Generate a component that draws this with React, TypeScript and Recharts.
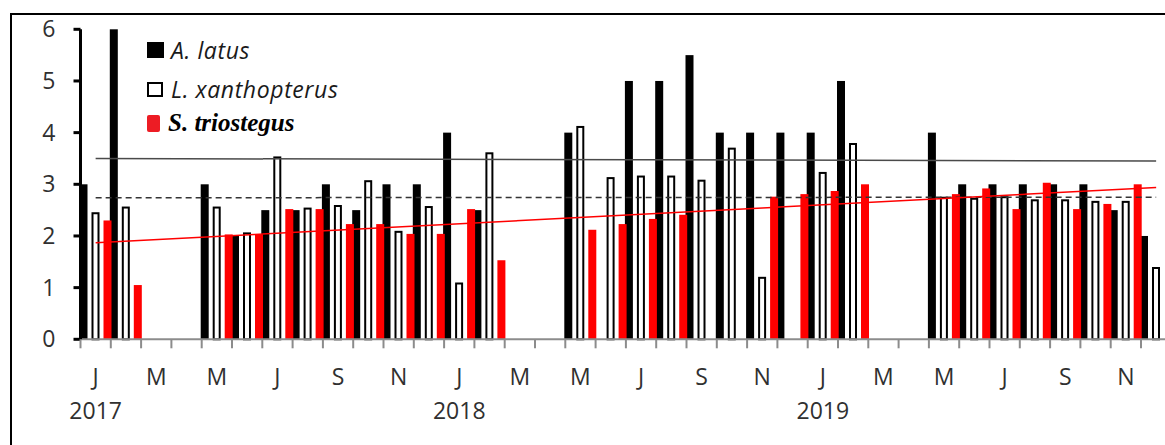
import React from 'react';
import { ComposedChart, Bar, XAxis, YAxis, ReferenceLine, Legend } from 'recharts';

// 36 monthly categories, Jan 2017 – Dec 2019
const months = [
  '2017-01', '2017-02', '2017-03', '2017-04', '2017-05', '2017-06',
  '2017-07', '2017-08', '2017-09', '2017-10', '2017-11', '2017-12',
  '2018-01', '2018-02', '2018-03', '2018-04', '2018-05', '2018-06',
  '2018-07', '2018-08', '2018-09', '2018-10', '2018-11', '2018-12',
  '2019-01', '2019-02', '2019-03', '2019-04', '2019-05', '2019-06',
  '2019-07', '2019-08', '2019-09', '2019-10', '2019-11', '2019-12',
];

const monthTickLabels = [
  'J', '', 'M', '', 'M', '', 'J', '', 'S', '', 'N', '',
  'J', '', 'M', '', 'M', '', 'J', '', 'S', '', 'N', '',
  'J', '', 'M', '', 'M', '', 'J', '', 'S', '', 'N', '',
];

const yearTickLabels = [
  '2017', '', '', '', '', '', '', '', '', '', '', '',
  '2018', '', '', '', '', '', '', '', '', '', '', '',
  '2019', '', '', '', '', '', '', '', '', '', '', '',
];

// A. latus (black)
const latus = [
  3.0, 6.0, null, null, 3.0, 2.0, 2.5, 2.5, 3.0, 2.5, 3.0, 3.0,
  4.0, 2.5, null, null, 4.0, null, 5.0, 5.0, 5.5, 4.0, 4.0, 4.0,
  4.0, 5.0, null, null, 4.0, 3.0, 3.0, 3.0, 3.0, 3.0, 2.5, 2.0,
];

// L. xanthopterus (white)
const xanthopterus = [
  2.44, 2.55, null, null, 2.55, 2.05, 3.52, 2.53, 2.58, 3.06, 2.08, 2.56,
  1.08, 3.6, null, null, 4.11, 3.12, 3.15, 3.15, 3.07, 3.69, 1.19, null,
  3.22, 3.78, null, null, 2.74, 2.72, 2.75, 2.69, 2.69, 2.66, 2.66, 1.38,
];

// S. triostegus (red)
const triostegus = [
  2.3, 1.05, null, null, 2.03, 2.03, 2.52, 2.52, 2.23, 2.23, 2.04, 2.04,
  2.52, 1.53, null, null, 2.12, 2.23, 2.33, 2.41, null, null, 2.76, 2.81,
  2.87, 3.0, null, null, 2.81, 2.92, 2.52, 3.03, 2.52, 2.62, 3.0, null,
];

// linear trend lines: [value at first month, value at last month]
const trendLatus = [3.5, 3.45];
const trendXanthopterus = [2.74, 2.75];
const trendTriostegus = [1.87, 2.94];

const yTicks = [0, 1, 2, 3, 4, 5, 6];

const data = months.map((m, i) => ({
  month: m,
  latus: latus[i],
  xanthopterus: xanthopterus[i],
  triostegus: triostegus[i],
}));

const FONT = "'Open Sans', 'Noto Sans', sans-serif";
const TEXT = '#303030';

const BlackBar = (p: any) => {
  if (p.value == null || !(p.height > 0)) return <g />;
  return <rect x={p.x - 1} y={p.y} width={p.width + 2} height={p.height} fill="#000" />;
};
const WhiteBar = (p: any) => {
  if (p.value == null || !(p.height > 0)) return <g />;
  return (
    <rect x={p.x} y={p.y} width={p.width} height={p.height} fill="#fff" stroke="#000" strokeWidth={2} />
  );
};
const RedBar = (p: any) => {
  if (p.value == null || !(p.height > 0)) return <g />;
  return <rect x={p.x - 1} y={p.y} width={p.width + 2} height={p.height} fill="#ff0000" />;
};

const MonthTick = (props: any) => {
  const { x, y, payload, index } = props;
  const half = payload && typeof payload.offset === 'number' && payload.offset > 0 ? payload.offset : 15.15;
  return (
    <g>
      <line x1={x - half} y1={y} x2={x - half} y2={y + 9} stroke="#8c8c8c" strokeWidth={2} />
      <text x={x} y={y + 46} textAnchor="middle" fontSize={23} fontFamily={FONT} fill={TEXT}>
        {monthTickLabels[index]}
      </text>
      <text x={x} y={y + 80} textAnchor="middle" fontSize={23} fontFamily={FONT} fill={TEXT}>
        {yearTickLabels[index]}
      </text>
    </g>
  );
};

const italicText = {
  position: 'absolute' as const,
  left: 24,
  fontFamily: FONT,
  fontStyle: 'italic',
  fontSize: 23,
  letterSpacing: 0.6,
  color: '#1a1a1a',
  lineHeight: '30px',
  whiteSpace: 'nowrap' as const,
};

const LegendBox = () => (
  <div style={{ position: 'relative', width: 230, height: 120 }}>
    <div style={{ position: 'absolute', left: 0, top: 0, width: 17, height: 16, background: '#000' }} />
    <div style={{ ...italicText, top: -7 }}>A. latus</div>
    <div
      style={{
        position: 'absolute', left: 0, top: 40, width: 16, height: 15, background: '#fff',
        border: '2px solid #000', boxSizing: 'border-box',
      }}
    />
    <div style={{ ...italicText, top: 32 }}>L. xanthopterus</div>
    <div
      style={{
        position: 'absolute', left: 0, top: 73, width: 13, height: 17, background: '#ed1c24',
        borderRadius: 2,
      }}
    />
    <div
      style={{
        position: 'absolute', left: 21, top: 66, fontFamily: "'Liberation Serif', 'Times New Roman', serif",
        fontStyle: 'italic', fontWeight: 'bold', fontSize: 25, color: '#000', lineHeight: '30px',
        whiteSpace: 'nowrap',
      }}
    >
      S. triostegus
    </div>
  </div>
);

export default function App() {
  const first = months[0];
  const last = months[months.length - 1];
  return (
    <div
      style={{
        position: 'fixed', left: 8, top: 8, width: 1170, height: 437,
        overflow: 'hidden', background: '#fff',
      }}
    >
      <div
        style={{
          position: 'absolute', left: 2, top: 5, width: 1300, height: 600,
          border: '2px solid #000', boxSizing: 'border-box', pointerEvents: 'none',
        }}
      />
      <div style={{ position: 'absolute', left: 0, top: 0 }}>
        <ComposedChart
          width={1170}
          height={437}
          data={data}
          margin={{ top: 21.3, right: 6.7, bottom: 0, left: 0 }}
          barCategoryGap={0}
          barGap={6}
        >
          <XAxis
            dataKey="month"
            interval={0}
            height={105.7}
            tickSize={0}
            tickMargin={0}
            tickLine={false}
            axisLine={{ stroke: '#8c8c8c', strokeWidth: 2 }}
            tick={<MonthTick />}
          />
          <YAxis
            width={72.5}
            domain={[0, 6]}
            ticks={yTicks}
            interval={0}
            tickSize={7}
            tickMargin={18}
            axisLine={{ stroke: '#000', strokeWidth: 3 }}
            tickLine={{ stroke: '#000', strokeWidth: 3 }}
            tick={{ fontSize: 23, fill: TEXT, fontFamily: FONT }}
          />
          <Legend
            layout="horizontal"
            verticalAlign="middle"
            align="center"
            wrapperStyle={{ top: 34, left: 139, width: 240, height: 120 }}
            content={() => <LegendBox />}
          />
          <Bar dataKey="latus" name="A. latus" barSize={6} isAnimationActive={false} shape={<BlackBar />} />
          <Bar dataKey="xanthopterus" name="L. xanthopterus" barSize={6} isAnimationActive={false} shape={<WhiteBar />} />
          <Bar dataKey="triostegus" name="S. triostegus" barSize={6} isAnimationActive={false} shape={<RedBar />} />
          <ReferenceLine
            segment={[{ x: first, y: trendLatus[0] }, { x: last, y: trendLatus[1] }]}
            stroke="#4a4a4a"
            strokeWidth={1.5}
            ifOverflow="visible"
          />
          <ReferenceLine
            segment={[{ x: first, y: trendXanthopterus[0] }, { x: last, y: trendXanthopterus[1] }]}
            stroke="#333"
            strokeWidth={1.5}
            strokeDasharray="6 4"
            ifOverflow="visible"
          />
          <ReferenceLine
            segment={[{ x: first, y: trendTriostegus[0] }, { x: last, y: trendTriostegus[1] }]}
            stroke="#ff0000"
            strokeWidth={1.5}
            ifOverflow="visible"
          />
        </ComposedChart>
      </div>
    </div>
  );
}
